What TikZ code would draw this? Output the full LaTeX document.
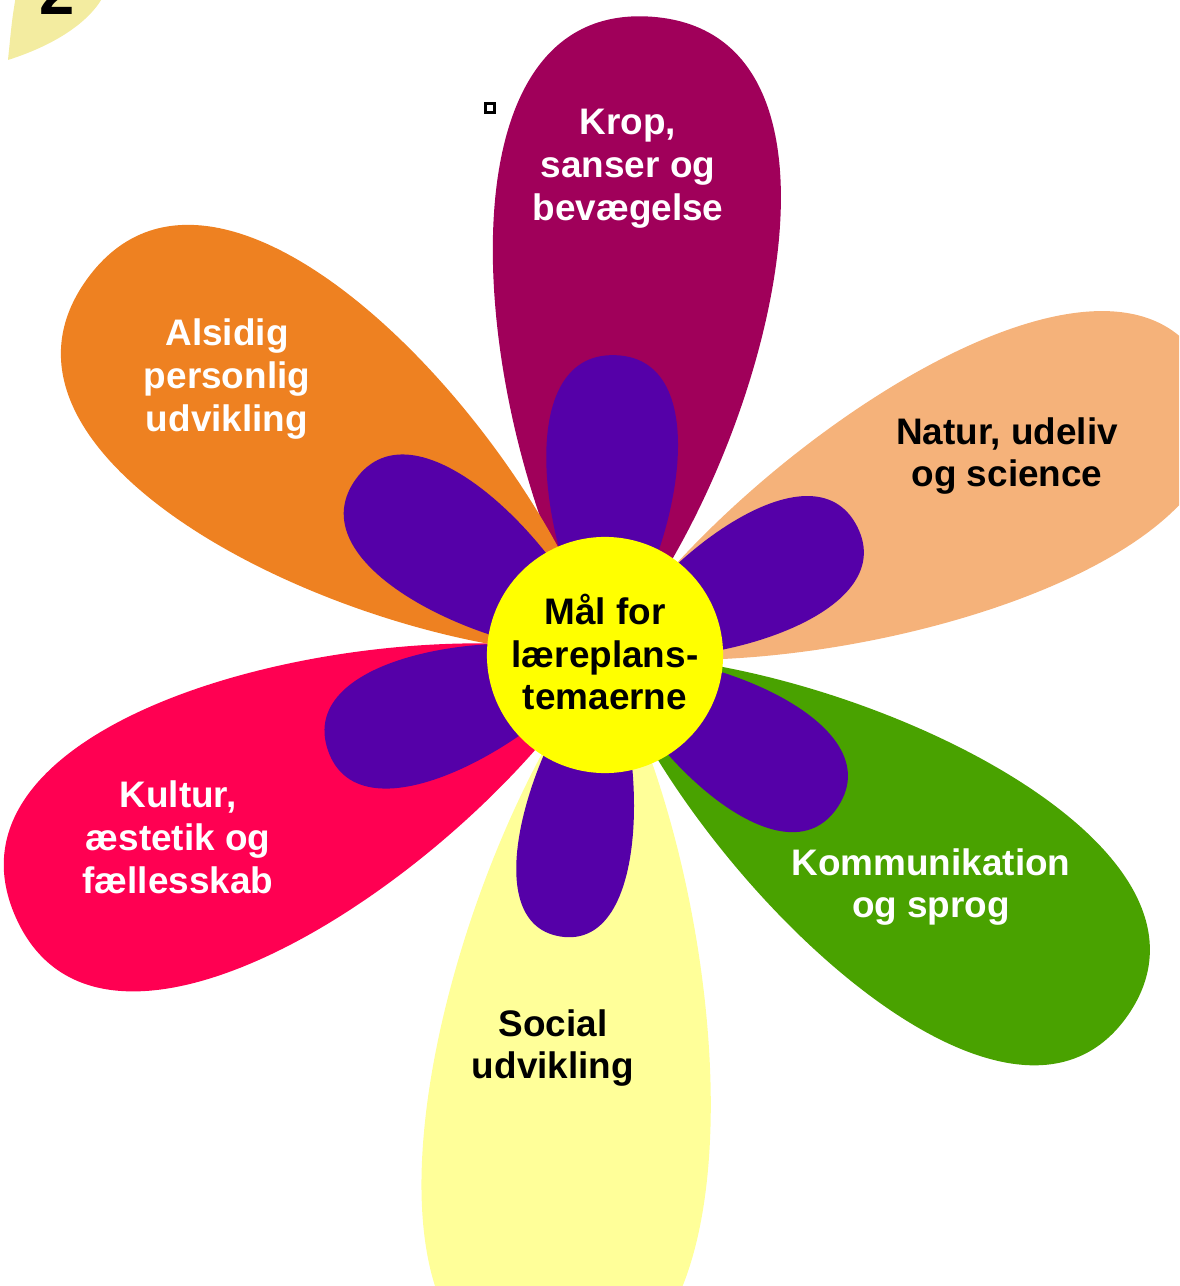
\documentclass[tikz,border=0pt]{standalone}
\usepackage{fontspec}
\setmainfont{Liberation Sans}
\definecolor{krop}{RGB}{160,0,90}
\definecolor{natur}{RGB}{245,178,122}
\definecolor{kommunikation}{RGB}{73,162,0}
\definecolor{social}{RGB}{255,255,153}
\definecolor{kultur}{RGB}{255,0,82}
\definecolor{alsidig}{RGB}{238,129,33}
\definecolor{inner}{RGB}{85,0,168}
\definecolor{hjerte}{RGB}{255,255,0}
\definecolor{blad}{RGB}{243,236,160}

\begin{document}
\begin{tikzpicture}[x=0.01cm,y=-0.01cm,
  teardrop/.style={insert path={(0,0) .. controls (0.3,0.45) and (1,0.72) .. (1,0)
      .. controls (1,-0.72) and (0.3,-0.45) .. (0,0) -- cycle}},
  themetext/.style={font=\fontsize{10.5}{12.2}\selectfont\bfseries,align=center,inner sep=0pt}]

  \useasboundingbox (0,0) rectangle (1179,1286);
  \clip (0,0) rectangle (1179,1286);

  % corner leaf and number
  \fill[blad] (8,60) .. controls (55,45) and (90,22) .. (104,-5) -- (16,-5) .. controls (12,20) .. (8,60);
  \node[font=\fontsize{18}{18}\selectfont\bfseries,anchor=base,inner sep=0pt] (nummer) at (57,15) {2};

  % outer petals
  \fill[krop,shift={(605,655)},rotate=85.8,xscale=640,yscale=322,teardrop];
  \fill[natur,shift={(605,655)},rotate=25,xscale=665,yscale=285,teardrop];
  \fill[kommunikation,shift={(605,655)},rotate=-34.5,xscale=635,yscale=295,teardrop];
  \fill[social,shift={(605,655)},rotate=-94.5,xscale=730,yscale=322,teardrop];
  \fill[kultur,shift={(605,655)},rotate=-156,xscale=645,yscale=310,teardrop];
  \fill[alsidig,shift={(605,655)},rotate=144,xscale=640,yscale=318,teardrop];

  % inner petals
  \fill[inner,shift={(605,655)},rotate=88,xscale=300,yscale=148,teardrop];
  \fill[inner,shift={(605,655)},rotate=27,xscale=283,yscale=138,teardrop];
  \fill[inner,shift={(605,655)},rotate=-33,xscale=278,yscale=138,teardrop];
  \fill[inner,shift={(605,655)},rotate=-99,xscale=285,yscale=127,teardrop];
  \fill[inner,shift={(605,655)},rotate=-161,xscale=293,yscale=140,teardrop];
  \fill[inner,shift={(605,655)},rotate=145,xscale=305,yscale=148,teardrop];

  % centre
  \node[circle,fill=hjerte,minimum size=2.36cm] (maal) at (605,655) {};
  \node[themetext] (maaltekst) at (605,652) {Mål for\\læreplans-\\temaerne};

  % themes
  \node[themetext,white] (krop) at (628,169) {Krop,\\sanser og\\bevægelse};
  \node[themetext,white] (alsidig) at (227,379) {Alsidig\\personlig\\udvikling};
  \node[themetext] (natur) at (1007,456) {Natur, udeliv\\og science};
  \node[themetext,white] (kommunikation) at (931,887) {Kommunikation\\og sprog};
  \node[themetext,white] (kultur) at (178,837) {Kultur,\\æstetik og\\fællesskab};
  \node[themetext] (social) at (553,1048) {Social\\udvikling};

  \node[draw,fill=white,line width=0.6pt,minimum size=0.09cm,inner sep=0pt] (markering) at (490,108) {};

\end{tikzpicture}
\end{document}
